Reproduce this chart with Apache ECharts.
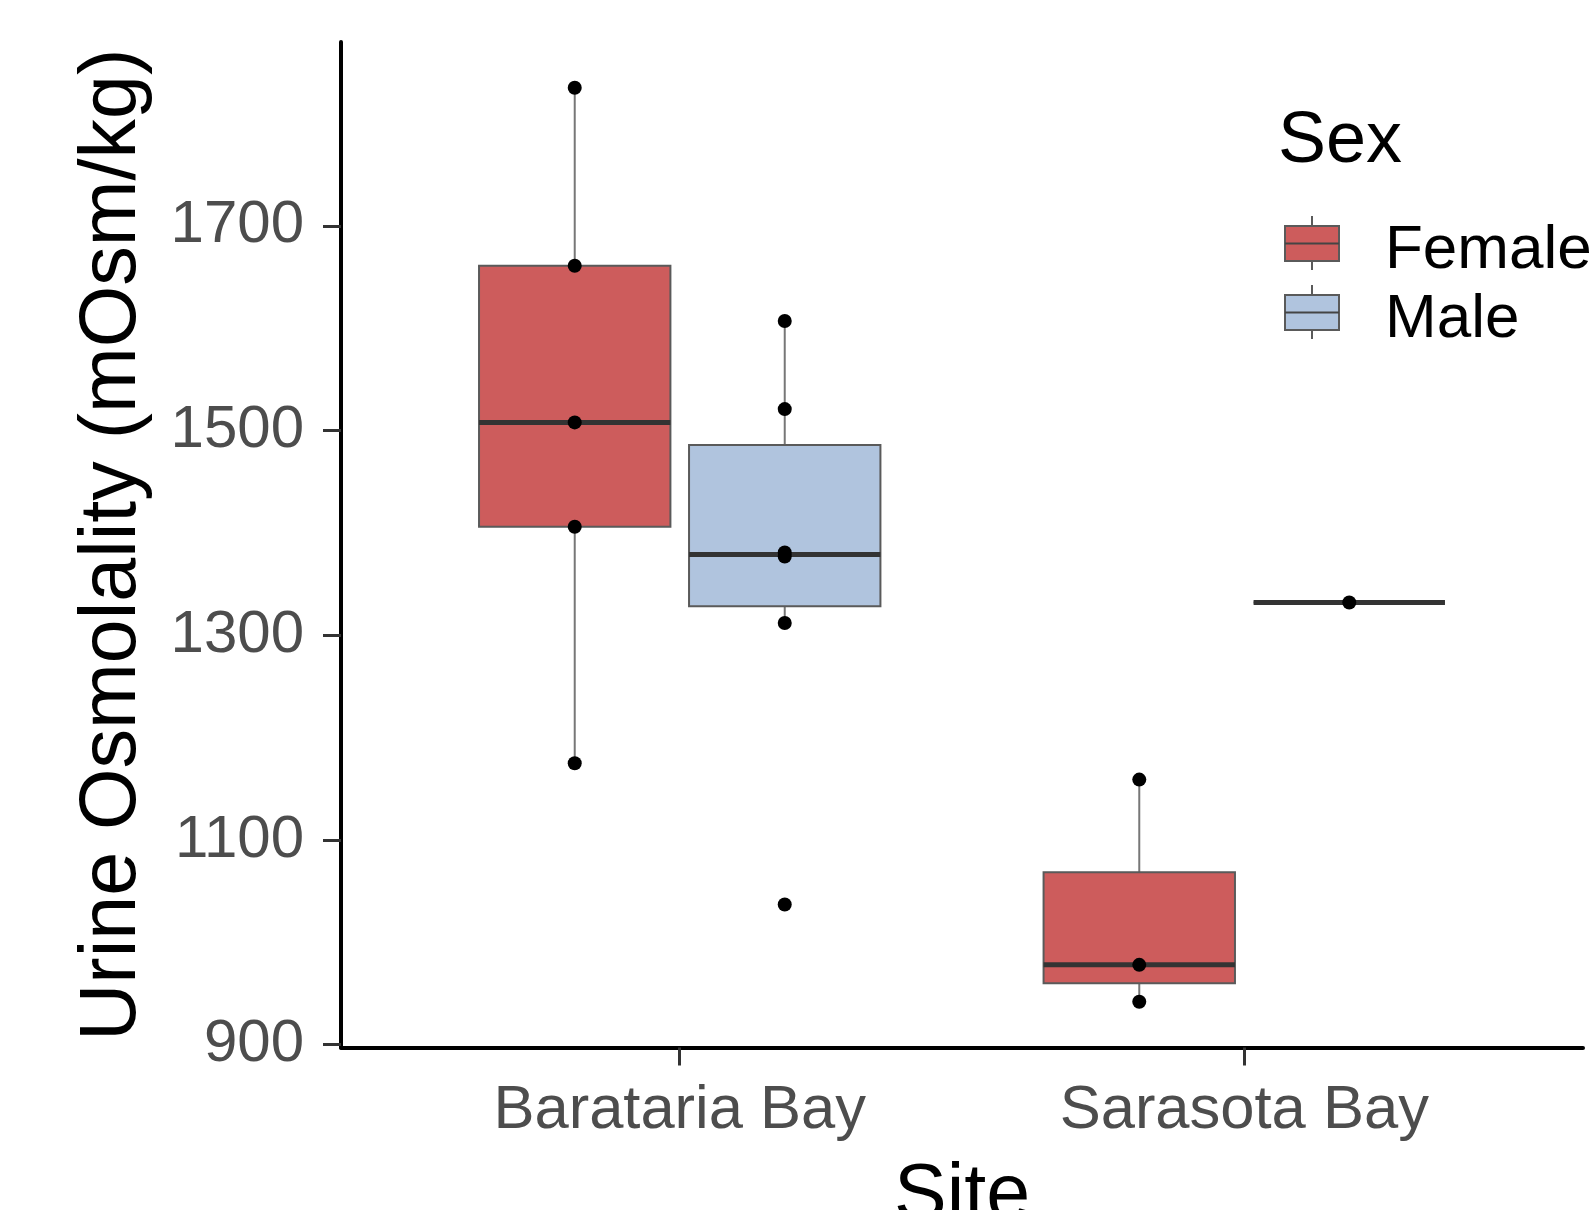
<!DOCTYPE html>
<html><head><meta charset="utf-8">
<script src="https://cdn.jsdelivr.net/npm/echarts@6/dist/echarts.min.js"></script>
<style>html,body{margin:0;padding:0;background:#fff}#c{width:1595px;height:1210px}</style>
</head><body><div id="c"></div>
<script>
// ---- data ----
const sites = ['Barataria Bay', 'Sarasota Bay'];
const sexes = ['Female', 'Male'];
const femaleValues = [[1835, 1661, 1508, 1406, 1175], [1159, 978, 942]];
const maleValues = [[1607, 1521, 1381, 1377, 1312, 1037], [1332]];
const yTicks = [900, 1100, 1300, 1500, 1700];
const xTicks = [1, 2];
const sexColors = ['#CD5C5C', '#B0C4DE'];

// ---- stats (ggplot-style boxplot: type-7 quantiles, 1.5 IQR whiskers) ----
function quantile(s, p) {
  const h = (s.length - 1) * p, lo = Math.floor(h), hi = Math.ceil(h);
  return s[lo] + (h - lo) * (s[hi] - s[lo]);
}
function boxStats(vals) {
  const s = vals.slice().sort((a, b) => a - b);
  const q1 = quantile(s, 0.25), med = quantile(s, 0.5), q3 = quantile(s, 0.75);
  const iqr = q3 - q1;
  const inside = s.filter(v => v >= q1 - 1.5 * iqr && v <= q3 + 1.5 * iqr);
  return [inside[0], q1, med, q3, inside[inside.length - 1]];
}
const DODGE = 0.186, HALF = 0.1695;
const groupValues = [femaleValues, maleValues];
const offsets = [-DODGE, DODGE];

const series = [];
sexes.forEach((sex, gi) => {
  const color = sexColors[gi];
  const boxData = groupValues[gi].map((vals, si) => [xTicks[si] + offsets[gi]].concat(boxStats(vals)));
  series.push({
    type: 'custom', name: sex, z: 2,
    encode: { x: 0, y: [1, 2, 3, 4, 5] },
    data: boxData,
    renderItem: function (params, api) {
      const x = api.value(0);
      const c = v => api.coord([x, v]);
      const left = api.coord([x - HALF, api.value(3)])[0];
      const right = api.coord([x + HALF, api.value(3)])[0];
      const cx = c(api.value(3))[0];
      const yMin = c(api.value(1))[1], yQ1 = c(api.value(2))[1], yMed = c(api.value(3))[1],
            yQ3 = c(api.value(4))[1], yMax = c(api.value(5))[1];
      return { type: 'group', children: [
        { type: 'line', shape: { x1: cx, y1: yQ3, x2: cx, y2: yMax }, style: { stroke: '#777', lineWidth: 2 } },
        { type: 'line', shape: { x1: cx, y1: yQ1, x2: cx, y2: yMin }, style: { stroke: '#777', lineWidth: 2 } },
        { type: 'rect', shape: { x: left, y: yQ3, width: right - left, height: yQ1 - yQ3 }, style: { fill: color, stroke: '#5a5a5a', lineWidth: 2 } },
        { type: 'line', shape: { x1: left, y1: yMed, x2: right, y2: yMed }, style: { stroke: '#333333', lineWidth: 5 } }
      ]};
    }
  });
});
sexes.forEach((sex, gi) => {
  const pts = [];
  groupValues[gi].forEach((vals, si) => vals.forEach(v => pts.push([xTicks[si] + offsets[gi], v])));
  series.push({
    type: 'scatter', name: sex + ' points', z: 5, data: pts,
    symbol: 'circle', symbolSize: 14, itemStyle: { color: '#000', opacity: 1 }, silent: true
  });
});

// ---- legend (drawn) ----
const graphics = [{ type: 'text', x: 1278, y: 142, style: { text: 'Sex', font: '72px "Liberation Sans", Arial, sans-serif', fill: '#000', verticalAlign: 'middle' } }];
const keyTops = [226, 295], keyH = 35, keyLeft = 1285, keyW = 54;
sexes.forEach((sex, gi) => {
  const t = keyTops[gi], mid = t + keyH / 2, cx = keyLeft + keyW / 2;
  graphics.push(
    { type: 'line', shape: { x1: cx, y1: t - 10, x2: cx, y2: t + keyH + 9 }, style: { stroke: '#5a5a5a', lineWidth: 2 } },
    { type: 'rect', shape: { x: keyLeft, y: t, width: keyW, height: keyH }, style: { fill: sexColors[gi], stroke: '#5a5a5a', lineWidth: 2 } },
    { type: 'line', shape: { x1: keyLeft, y1: mid, x2: keyLeft + keyW, y2: mid }, style: { stroke: '#444', lineWidth: 2 } },
    { type: 'text', x: 1385, y: mid + 7, style: { text: sex, font: '62px "Liberation Sans", Arial, sans-serif', fill: '#000', verticalAlign: 'middle' } }
  );
});

const chart = echarts.init(document.getElementById('c'), null, { renderer: 'canvas' });
chart.setOption({
  backgroundColor: '#fff',
  animation: false,
  textStyle: { fontFamily: '"Liberation Sans", Arial, sans-serif' },
  grid: { left: 341, right: 12, top: 42, bottom: 162.6, containLabel: false, outerBoundsMode: 'none' },
  xAxis: {
    type: 'value', min: 0.4, max: 2.6,
    name: 'Site', nameLocation: 'middle', nameGap: 110, nameMoveOverlap: false,
    nameTextStyle: { fontSize: 79, color: '#000' },
    axisLine: { show: true, onZero: false, lineStyle: { color: '#000', width: 4 } },
    axisTick: { show: true, customValues: xTicks, length: 18, lineStyle: { color: '#333', width: 3 } },
    axisLabel: { show: true, customValues: xTicks, formatter: v => sites[Math.round(v) - 1], fontSize: 61.5, color: '#4D4D4D', margin: 33 },
    splitLine: { show: false }
  },
  yAxis: {
    type: 'value', min: 897.35, max: 1879.65,
    name: 'Urine Osmolality (mOsm/kg)', nameLocation: 'middle', nameGap: 188, nameRotate: 90, nameMoveOverlap: false,
    nameTextStyle: { fontSize: 79, color: '#000' },
    axisLine: { show: true, onZero: false, lineStyle: { color: '#000', width: 4 } },
    axisTick: { show: true, customValues: yTicks, length: 18, lineStyle: { color: '#333', width: 3 } },
    axisLabel: { show: true, customValues: yTicks, formatter: v => String(v), fontSize: 60, color: '#4D4D4D', margin: 37 },
    splitLine: { show: false }
  },
  graphic: graphics,
  series: series
});
</script></body></html>
